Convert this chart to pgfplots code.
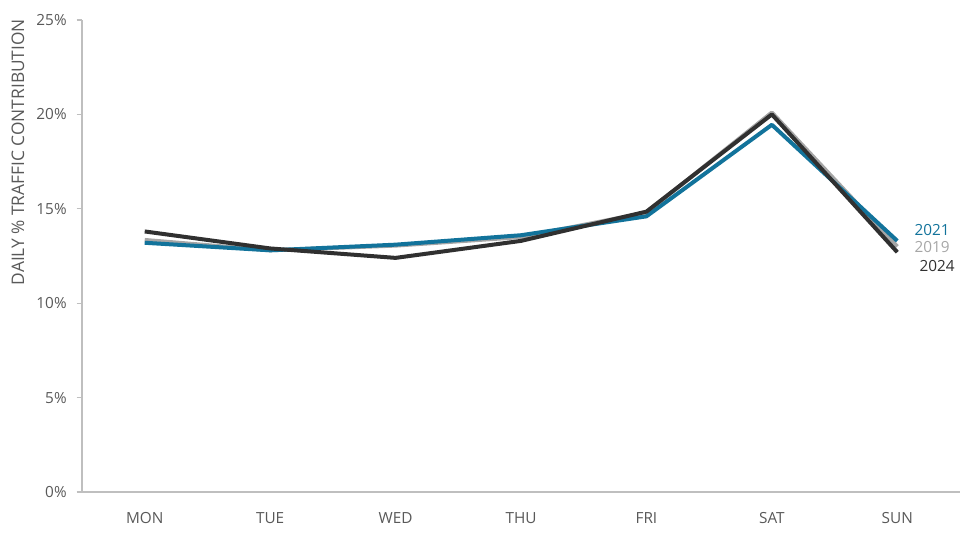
\documentclass[border=0pt]{standalone}
\usepackage{pgfplots}
\pgfplotsset{compat=1.18}
\usepackage{fontspec}
\setmainfont{Open Sans}
\usetikzlibrary{calc}

\definecolor{c2019}{HTML}{A6A6A6}
\definecolor{c2021}{HTML}{12739B}
\definecolor{c2024}{HTML}{303030}
\definecolor{axgrey}{HTML}{BFBFBF}
\definecolor{txtgrey}{HTML}{595959}

\begin{document}
\begin{tikzpicture}
\begin{axis}[
  name=ax,
  scale only axis,
  width=658.5pt, height=354pt,
  xmin=-0.5, xmax=6.5,
  ymin=0, ymax=25,
  xtick={0,...,6},
  xticklabels={MON,TUE,WED,THU,FRI,SAT,SUN},
  ytick={0,5,...,25},
  yticklabel={\pgfmathprintnumber{\tick}\%},
  /pgf/number format/assume math mode=true,
  axis x line*=bottom, axis y line*=left,
  axis line style={axgrey, line width=1pt},
  x axis line style={-}, y axis line style={-},
  major tick style={axgrey, line width=0.8pt},
  xtick style={draw=none},
  ytick pos=left,
  tick align=outside,
  major tick length=4pt,
  ticklabel style={font=\fontsize{11.5}{13}\selectfont, text=txtgrey},
  xticklabel style={yshift=-8pt},
  yticklabel style={xshift=-4pt},
  ylabel={DAILY \% TRAFFIC CONTRIBUTION},
  ylabel style={font=\fontsize{13}{15}\selectfont, text=txtgrey,
    at={(axis description cs:-0.073,0.72)}, anchor=center, rotate=0},
  clip=false,
]
\addplot[c2019, line width=3pt, line join=round] coordinates {
  (0,13.35) (1,12.8) (2,13.05) (3,13.5) (4,14.8) (5,20.1) (6,13.0)};
\addplot[c2021, line width=3pt, line join=round] coordinates {
  (0,13.2) (1,12.8) (2,13.1) (3,13.6) (4,14.6) (5,19.45) (6,13.3)};
\addplot[c2024, line width=3pt, line join=round] coordinates {
  (0,13.8) (1,12.9) (2,12.4) (3,13.3) (4,14.85) (5,20.0) (6,12.7)};
\node[anchor=west, text=c2021, font=\fontsize{11.5}{13}\selectfont] at (axis cs:6.1,13.9) {2021};
\node[anchor=west, text=c2019, font=\fontsize{11.5}{13}\selectfont] at (axis cs:6.1,13.0) {2019};
\node[anchor=west, text=c2024, font=\fontsize{11.5}{13}\selectfont] at (axis cs:6.14,11.95) {2024};
\end{axis}
\pgfresetboundingbox
\useasboundingbox ($(ax.south west)+(-61.5pt,-36pt)$) rectangle ($(ax.north east)+(0pt,15pt)$);
\end{tikzpicture}
\end{document}
